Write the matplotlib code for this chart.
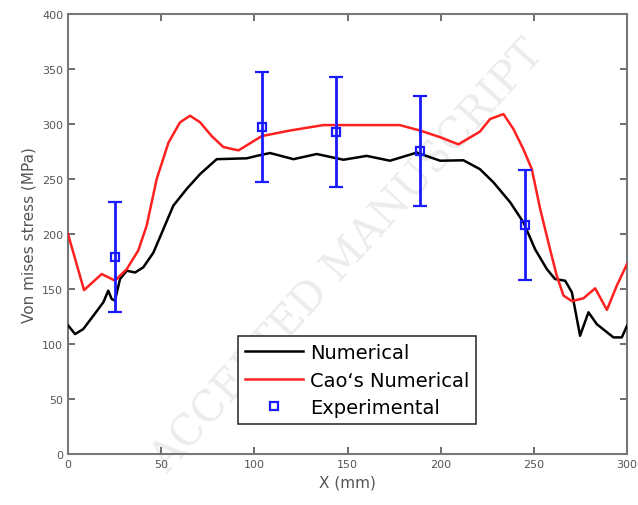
import numpy as np
import matplotlib
matplotlib.use("Agg")
import matplotlib.pyplot as plt

# Numerical (black)
num_x = [0, 3.8, 8.2, 13.6, 19, 21.6, 23.4, 25.2, 27.9, 31.5, 36, 40.4, 45.8, 51.2,
         56.5, 63.7, 70.9, 79.8, 96, 101.3, 108.4, 121, 133.5, 147.8, 160.3, 172.8,
         187.2, 199.7, 212.2, 221, 228.3, 237.3, 244.4, 250.7, 257, 261.4, 266.8,
         270.4, 274.8, 279.3, 283.8, 292.7, 297.2, 300]
num_y = [117, 109, 113.6, 125.7, 138, 148.5, 141, 139.4, 159, 166.6, 165, 169.7, 183,
         204.5, 225.7, 241, 254.5, 268, 268.8, 271, 273.6, 268, 272.7, 267.5, 271,
         266.6, 274, 266.6, 267, 259, 247, 228.8, 210.6, 186, 168, 159, 157.5, 147,
         107.5, 128.8, 118, 106, 106, 116.6]

# Cao's Numerical (red)
cao_x = [0, 8.6, 18.1, 25.2, 31.5, 37.7, 42.2, 47.6, 53.9, 60.1, 65.5, 70.9, 77.1,
         83.4, 91.5, 104, 119, 137, 178, 189, 199.7, 209.5, 221, 226.5, 233.7, 239,
         244.4, 248.9, 253.4, 258.7, 262.3, 265.9, 270.4, 276.6, 282.9, 289.2, 294.5,
         300]
cao_y = [200, 149, 163.6, 157.6, 168, 185, 207.5, 250, 283, 301.5, 307.5, 301.5, 289,
         279, 276, 289, 294, 299, 299, 294, 288, 281.5, 293, 304.5, 309, 295.5, 277,
         259, 222.7, 186, 162, 144, 139, 141.5, 150.6, 131, 153, 172.7]

# Experimental
exp_x = [25, 104, 144, 189, 245]
exp_y = [179, 297, 293, 275, 208]
exp_err = [50, 50, 50, 50, 50]

grey = "#555555"

fig = plt.figure(figsize=(6.38, 5.06), dpi=100)
ax = fig.add_axes([0.1066, 0.1008, 0.8762, 0.8696])

# faint watermark, kept behind the data
ax.text(0.5, 0.45, "ACCEPTED MANUSCRIPT", transform=ax.transAxes, fontsize=30,
        family="DejaVu Serif", color="#ececec", rotation=48, ha="center",
        va="center", zorder=0)

ax.plot(num_x, num_y, color="black", lw=1.8, label="Numerical", zorder=3)
ax.plot(cao_x, cao_y, color="#ff2020", lw=1.8, label="Cao\u2018s Numerical", zorder=3)
ax.errorbar(exp_x, exp_y, yerr=exp_err, fmt="s", color="#1a1aff", mfc="none",
            ms=6, mew=1.6, elinewidth=2, capsize=5, capthick=2, label="Experimental",
            zorder=4)

ax.set_xlim(0, 300)
ax.set_ylim(0, 400)
ax.set_xticks(np.arange(0, 301, 50))
ax.set_yticks(np.arange(0, 401, 50))
ax.tick_params(direction="in", top=True, right=True, labelsize=8, colors=grey,
               labelcolor=grey, length=5, width=1.2)
for s in ax.spines.values():
    s.set_color("#777777")
    s.set_linewidth(1.5)

ax.set_xlabel("X (mm)", fontsize=11, color=grey)
ax.set_ylabel("Von mises stress (MPa)", fontsize=11, color=grey)

h, l = ax.get_legend_handles_labels()
h[2] = plt.Line2D([], [], marker="s", ls="none", color="#1a1aff", mfc="none",
                  ms=6, mew=1.6)
leg = ax.legend(h, l, loc="lower left", bbox_to_anchor=(0.304, 0.068), fontsize=14,
                frameon=True, fancybox=False, edgecolor="#333333", framealpha=1,
                handlelength=3.0, handletextpad=0.35, borderpad=0.35,
                labelspacing=0.45, borderaxespad=0)
leg.get_frame().set_linewidth(1.2)
leg.set_zorder(5)

fig.savefig("out.png", dpi=100)
